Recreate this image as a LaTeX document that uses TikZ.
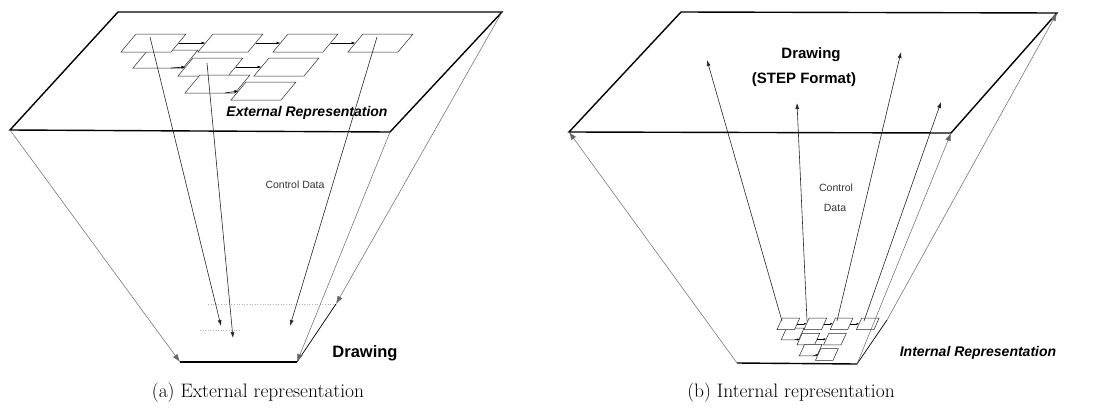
\documentclass[tikz,border=0pt]{standalone}
\usepackage{fontspec}
\newfontfamily\lsans{Liberation Sans}
\usetikzlibrary{arrows.meta}
\newcommand\bw{50}
\newcommand\bh{18}
\newcommand\bs{15}
% parallelogram box: name, x, y (bottom-left corner)
\newcommand\pgb[3]{%
  \path (#2,#3) coordinate (#1-bl) ++(\bw,0) coordinate (#1-br)
        ++(\bs,-\bh) coordinate (#1-tr) ++(-\bw,0) coordinate (#1-tl);
  \path (#2,#3) ++(\bs/2,-\bh/2) coordinate (#1-l) ++(\bw,0) coordinate (#1-r);
  \filldraw[bx] (#1-bl) -- (#1-br) -- (#1-tr) -- (#1-tl) -- cycle;}
% layout of the flow boxes
\newcommand\flowlayout[1]{%
  \pgb{#1E}{133}{68}
  \pgb{#1A}{121}{52}
  \pgb{#1B}{198}{52}
  \pgb{#1C}{273}{52}
  \pgb{#1D}{348}{52}
  \pgb{#1F}{178}{76}
  \pgb{#1G}{254}{76}
  \pgb{#1H}{185}{93}
  \pgb{#1I}{231}{100}
  \draw[cn] (#1A-r) -- (#1B-l);
  \draw[cn] (#1B-r) -- (#1C-l);
  \draw[cn] (#1C-r) -- (#1D-l);
  \draw[cn] (#1E-bl) ++(38,0) -- (#1F-l);
  \draw[cn] (#1F-r) -- (#1G-l);
  \draw[cn] (#1H-bl) ++(40,0) -- (#1I-l);}
\begin{document}
\begin{tikzpicture}[x=1pt,y=-1pt,
  plane/.style={line width=1.4pt,black},
  planethin/.style={line width=0.7pt,black},
  corner/.style={line width=0.5pt,black!60},
  ctrl/.style={line width=0.6pt,black!85},
  faint/.style={line width=0.6pt,black!30,dotted},
  bigtip/.style={-{Latex[length=8pt,width=5.5pt]}},
  midtip/.style={-{Latex[length=6pt,width=4pt]}},
  bx/.style={draw=black!85,line width=0.5pt,fill=white},
  rep/.style={font=\lsans\bfseries\itshape\fontsize{14}{16}\selectfont,inner sep=0pt},
  head/.style={font=\lsans\bfseries\fontsize{15}{18}\selectfont,inner sep=0pt},
  ctl/.style={font=\lsans\fontsize{10.5}{20}\selectfont,text=black!80,inner sep=0pt},
  captxt/.style={font=\fontsize{19.5}{22}\selectfont,inner sep=0pt}]
\useasboundingbox (0,0) rectangle (1104,408);

% ================= (a) External representation =================
\coordinate (aTL) at (118,12);
\coordinate (aTR) at (502,12);
\coordinate (aFR) at (390,132);
\coordinate (aFL) at (10,130);
\coordinate (aBFL) at (180,362);
\coordinate (aBFR) at (297,362);
\coordinate (aBBR) at (336,304);
\coordinate (aBBL) at (208,304);
\coordinate (aH1) at (200,330);
\coordinate (aH2) at (240,330);

\draw[plane] (aTL) -- (aTR) -- (aFR) -- (aFL) -- cycle;

\begin{scope}[cn/.style={line width=0.6pt,black,-{Latex[length=4pt,width=3pt]}}]
  \flowlayout{a}
\end{scope}

\node[rep] (aRep) at (307,113) {External Representation};

% bottom plane
\draw[faint] (aBBL) -- (aBBR);
\draw[faint] (aH1) -- (aH2);
\draw[plane] (aBFL) -- (aBFR);
\draw[planethin] (aBFR) -- (aBBR);

% corner connectors
\draw[corner,bigtip] (aFL) -- (aBFL);
\draw[corner,bigtip] (aFR) -- (aBFR);
\draw[corner,bigtip] (aTR) -- (aBBR);

% control data connectors
\coordinate (a1s) at (150,37);  \coordinate (a1e) at (221,326);
\coordinate (a2s) at (207,63);  \coordinate (a2e) at (233,338);
\coordinate (a3s) at (377,37);  \coordinate (a3e) at (290,326);
\draw[ctrl,midtip] (a1s) -- (a1e);
\draw[ctrl,midtip] (a2s) -- (a2e);
\draw[ctrl,midtip] (a3s) -- (a3e);

\node[ctl] (aCtl) at (295,185) {Control Data};
\node[head,font=\lsans\bfseries\fontsize{16.5}{19}\selectfont] (aDraw) at (365,353) {Drawing};
\node[captxt] (capa) at (258,393) {(a) External representation};

% ================= (b) Internal representation =================
\coordinate (bTL) at (681,12);
\coordinate (bTR) at (1057,13);
\coordinate (bFR) at (951,133);
\coordinate (bFL) at (569,132);
\coordinate (bBFL) at (737,363);
\coordinate (bBFR) at (857,364);
\coordinate (bBBR) at (887,320);

\draw[plane] (bTL) -- (bTR) -- (bFR) -- (bFL) -- cycle;

\node[head] (bDraw) at (811,55) {Drawing};
\node[head] (bStep) at (804,80) {(STEP Format)};

\begin{scope}[shift={(777,318)},xscale=0.35,yscale=0.64,shift={(-121,-34)},
  cn/.style={line width=0.5pt,black,-{Latex[length=2.5pt,width=2pt]}}]
  \flowlayout{b}
\end{scope}

\draw[plane] (bBFL) -- (bBFR);
\draw[planethin] (bBFR) -- (bBBR);

% corner connectors
\draw[corner,bigtip] (bBFL) -- (bFL);
\draw[corner,bigtip] (bBFR) -- (bFR);
\draw[corner,bigtip] (bBBR) -- (bTR);

% control data connectors
\coordinate (b1s) at (782,321); \coordinate (b1e) at (707,60);
\coordinate (b2s) at (807,321); \coordinate (b2e) at (797,103);
\coordinate (b3s) at (837,321); \coordinate (b3e) at (901,52);
\coordinate (b4s) at (864,321); \coordinate (b4e) at (941,102);
\draw[ctrl,midtip] (b1s) -- (b1e);
\draw[ctrl,midtip] (b2s) -- (b2e);
\draw[ctrl,midtip] (b3s) -- (b3e);
\draw[ctrl,midtip] (b4s) -- (b4e);

\node[ctl] (bCtl1) at (836,188) {Control};
\node[ctl] (bCtl2) at (835,208) {Data};
\node[rep] (bRep) at (978,353) {Internal Representation};
\node[captxt] (capb) at (791,393) {(b) Internal representation};
\end{tikzpicture}
\end{document}
